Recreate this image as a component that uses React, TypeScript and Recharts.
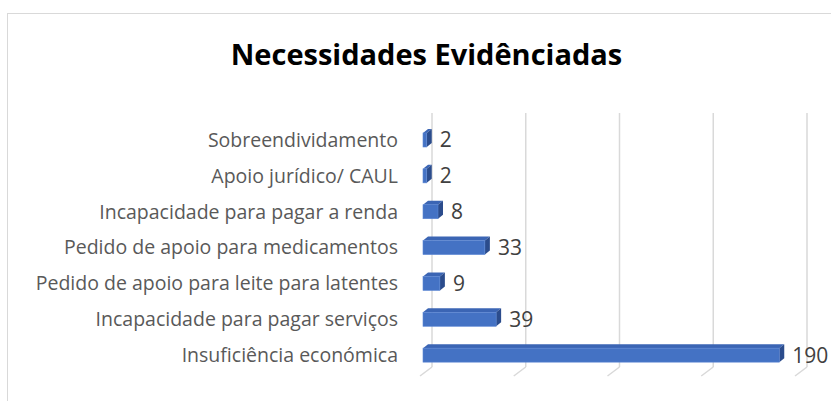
import React from 'react';
import { BarChart, Bar, XAxis, YAxis, CartesianGrid, LabelList } from 'recharts';

const categories = [
  'Sobreendividamento',
  'Apoio jurídico/ CAUL',
  'Incapacidade para pagar a renda',
  'Pedido de apoio para medicamentos',
  'Pedido de apoio para leite para latentes',
  'Incapacidade para pagar serviços',
  'Insuficiência económica',
];
const values = [2, 2, 8, 33, 9, 39, 190];
const xTicks = [0, 50, 100, 150, 200];

const data = categories.map((name, i) => ({ name, value: values[i] }));

const FONT = '"Open Sans", "Noto Sans", sans-serif';

// front face + top face + side face, like Excel's 3D bars
function Bar3D(props: any) {
  const { x, y, width, height } = props;
  const d = 5;
  const dy = 4;
  return (
    <g>
      <polygon
        points={`${x},${y} ${x + d},${y - dy} ${x + width + d},${y - dy} ${x + width},${y}`}
        fill="#3b65b4"
      />
      <polygon
        points={`${x + width},${y} ${x + width + d},${y - dy} ${x + width + d},${y + height - dy} ${x + width},${y + height}`}
        fill="#2b4c8c"
      />
      <rect x={x} y={y} width={width} height={height} fill="#4472c4" stroke="#5b86d4" strokeWidth={0.6} />
    </g>
  );
}

function GridLine(props: any) {
  const { x1, y1, y2, key } = props;
  const bx = x1 + 9;
  const top = y1 - 9;
  const bottom = y2 - 6;
  return (
    <g key={key}>
      <line x1={bx} y1={top} x2={bx} y2={bottom} stroke="#d9d9d9" strokeWidth={1.5} />
      <line x1={bx} y1={bottom} x2={bx - 12} y2={bottom + 9} stroke="#d9d9d9" strokeWidth={1.5} />
    </g>
  );
}

export default function App() {
  return (
    <div style={{ position: 'absolute', left: 0, top: 0, width: 831, height: 401, background: '#fff', overflow: 'hidden' }}>
      <div
        style={{
          position: 'absolute',
          left: 7,
          top: 13,
          width: 840,
          height: 400,
          border: '1.5px solid #d9d9d9',
        }}
      />
      <div
        style={{
          position: 'absolute',
          left: 0,
          width: 853,
          top: 34,
          textAlign: 'center',
          fontFamily: FONT,
          fontWeight: 700,
          fontSize: 29,
          color: '#000',
        }}
      >
        Necessidades Evidênciadas
      </div>
      <div style={{ position: 'absolute', left: 0, top: 0 }}>
        <BarChart
          width={831}
          height={401}
          data={data}
          layout="vertical"
          margin={{ top: 122, right: 33, bottom: 28, left: 0 }}
          barSize={14}
        >
          <CartesianGrid horizontal={false} vertical={GridLine} />
          <XAxis type="number" domain={[0, 200]} ticks={xTicks} hide />
          <YAxis
            type="category"
            dataKey="name"
            width={423}
            axisLine={false}
            tickLine={false}
            tickSize={0}
            tickMargin={25}
            tick={{ fill: '#595959', fontSize: 19.5, fontFamily: FONT }}
            interval={0}
          />
          <Bar dataKey="value" shape={<Bar3D />} isAnimationActive={false}>
            <LabelList
              dataKey="value"
              position="right"
              offset={13}
              style={{ fill: '#404040', fontSize: 21, fontFamily: FONT }}
            />
          </Bar>
        </BarChart>
      </div>
    </div>
  );
}
